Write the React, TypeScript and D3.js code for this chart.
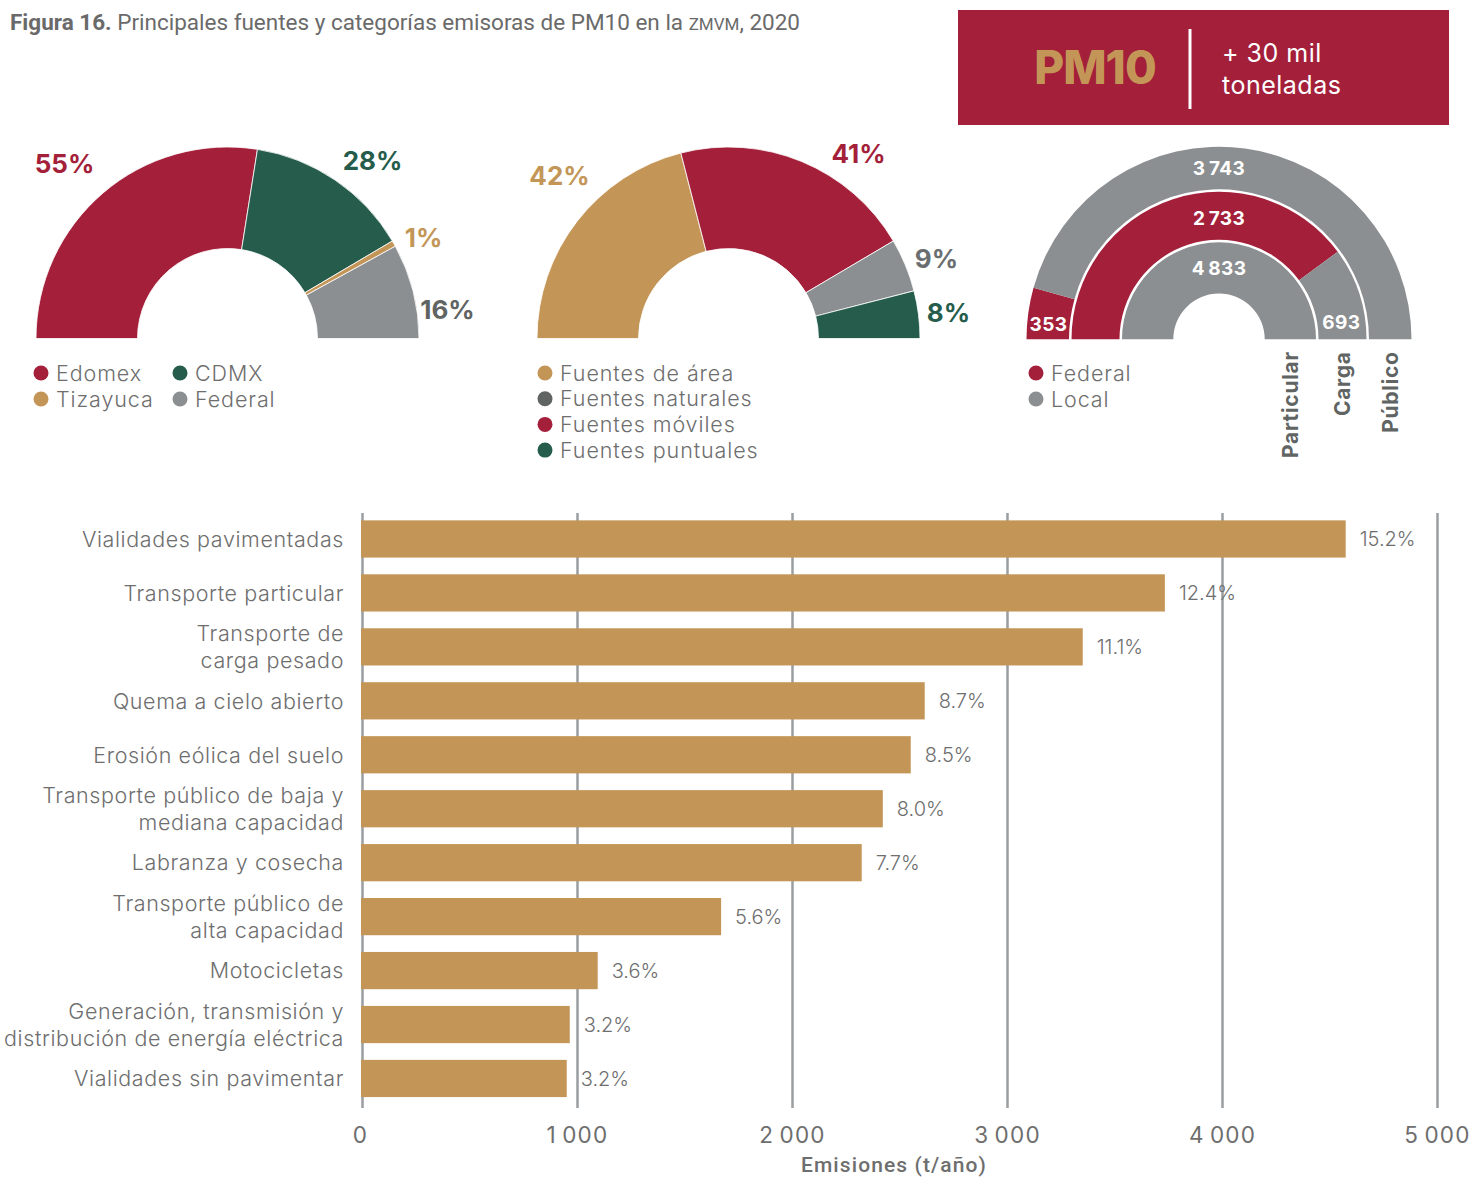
import React from 'react';
import * as d3 from 'd3';

// ---------- DATA ----------
const regionNames = ['Edomex', 'CDMX', 'Tizayuca', 'Federal'];
const regionShares = [55, 28, 1, 16];

const sourceNames = ['Fuentes de área', 'Fuentes móviles', 'Fuentes naturales', 'Fuentes puntuales'];
const sourceShares = [42, 41, 9, 8];
const sourceLegendOrder = ['Fuentes de área', 'Fuentes naturales', 'Fuentes móviles', 'Fuentes puntuales'];

const transportModes = ['Particular', 'Carga', 'Público'];
const jurisdictions = ['Federal', 'Local'];
const transportFederal = [0, 2733, 353];
const transportLocal = [4833, 693, 3743];

const categories = [
  'Vialidades pavimentadas',
  'Transporte particular',
  'Transporte de\ncarga pesado',
  'Quema a cielo abierto',
  'Erosión eólica del suelo',
  'Transporte público de baja y\nmediana capacidad',
  'Labranza y cosecha',
  'Transporte público de\nalta capacidad',
  'Motocicletas',
  'Generación, transmisión y\ndistribución de energía eléctrica',
  'Vialidades sin pavimentar',
];
const emissions = [4573, 3732, 3350, 2615, 2550, 2420, 2322, 1668, 1094, 964, 950];
const shareLabels = ['15.2%', '12.4%', '11.1%', '8.7%', '8.5%', '8.0%', '7.7%', '5.6%', '3.6%', '3.2%', '3.2%'];
const xTicks = [0, 1000, 2000, 3000, 4000, 5000];

// ---------- STYLE ----------
const CRIMSON = '#A31F3A';
const GREEN = '#265C4B';
const GOLD = '#C39657';
const GRAY = '#8C8F91';
const DARKGRAY = '#606463';
const TEXT = '#6E6E6E';
const GEO = "Inter, 'Open Sans', sans-serif";
const COND = "Roboto, 'Noto Sans', sans-serif";

const regionColors: Record<string, string> = { Edomex: CRIMSON, CDMX: GREEN, Tizayuca: GOLD, Federal: GRAY };
const regionLabelColors: Record<string, string> = { Edomex: CRIMSON, CDMX: GREEN, Tizayuca: GOLD, Federal: DARKGRAY };
const sourceColors: Record<string, string> = {
  'Fuentes de área': GOLD, 'Fuentes móviles': CRIMSON, 'Fuentes naturales': GRAY, 'Fuentes puntuales': GREEN,
};
const sourceLegendColors: Record<string, string> = {
  'Fuentes de área': GOLD, 'Fuentes móviles': CRIMSON, 'Fuentes naturales': DARKGRAY, 'Fuentes puntuales': GREEN,
};
const sourceLabelColors: Record<string, string> = {
  'Fuentes de área': GOLD, 'Fuentes móviles': CRIMSON, 'Fuentes naturales': '#6B6E70', 'Fuentes puntuales': GREEN,
};
const jurisdictionColors: Record<string, string> = { Federal: CRIMSON, Local: GRAY };

// label offsets (layout) relative to donut centre
const regionLabelOffsets = [[-163, -175], [145, -178], [196, -101], [220, -29]];
const sourceLabelOffsets = [[-169, -163], [130, -185], [208, -80], [220, -26]];

const locale = d3.formatLocale({ decimal: '.', thousands: '\u2009', grouping: [3], currency: ['', ''] });
const fmt = locale.format(',');

function Legend({ items, colors, x, y, dy, cols = 1, colW = 0 }: any) {
  return (
    <g>
      {items.map((name: string, i: number) => {
        const c = i % cols;
        const r = Math.floor(i / cols);
        const cx = x + c * colW;
        const cy = y + r * dy;
        return (
          <g key={name}>
            <circle cx={cx} cy={cy} r={7.5} fill={colors[name]} />
            <text x={cx + 15} y={cy} dy="0.36em" fontFamily={GEO} fontWeight={300} fontSize={21.5} fill={TEXT} letterSpacing={0.9}>
              {name}
            </text>
          </g>
        );
      })}
    </g>
  );
}

function HalfDonut({ cx, cy, names, values, colors, labelColors, offsets }: any) {
  const pie = d3.pie<number>().sort(null).startAngle(-Math.PI / 2).endAngle(Math.PI / 2);
  const arc = d3.arc<d3.PieArcDatum<number>>().innerRadius(90).outerRadius(191.5);
  const arcs = pie(values);
  return (
    <g transform={`translate(${cx},${cy})`}>
      {arcs.map((a, i) => (
        <path key={names[i]} d={arc(a) || ''} fill={colors[names[i]]} stroke="#fff" strokeWidth={0.8} />
      ))}
      {arcs.map((a, i) => (
        <text key={'l' + i} x={offsets[i][0]} y={offsets[i][1]} textAnchor="middle" dy="0.36em"
          fontFamily={GEO} fontWeight={700} fontSize={26} fill={labelColors[names[i]]}>
          {values[i]}%
        </text>
      ))}
    </g>
  );
}

function RingChart({ cx, cy }: any) {
  const rings = [
    { inner: 45.7, outer: 97 },
    { inner: 99.5, outer: 147.5 },
    { inner: 150, outer: 192.5 },
  ];
  const pie = d3.pie<number>().sort(null).startAngle(-Math.PI / 2).endAngle(Math.PI / 2);
  // label angles (layout): [federal label angle, local label angle] in radians
  const labelAngles = [
    [null, 0],
    [0, 1.43],
    [-1.48, 0],
  ];
  return (
    <g transform={`translate(${cx},${cy})`}>
      {transportModes.map((mode, m) => {
        const vals = [transportFederal[m], transportLocal[m]];
        const arcs = pie(vals);
        const arc = d3.arc<d3.PieArcDatum<number>>().innerRadius(rings[m].inner).outerRadius(rings[m].outer);
        const midR = (rings[m].inner + rings[m].outer) / 2;
        return (
          <g key={mode}>
            {arcs.map((a, j) => (a.value > 0 ? (
              <path key={j} d={arc(a) || ''} fill={jurisdictionColors[jurisdictions[j]]} />
            ) : null))}
            {arcs.map((a, j) => {
              const ang = labelAngles[m][j];
              if (a.value <= 0 || ang === null) return null;
              return (
                <text key={'t' + j} x={midR * Math.sin(ang)} y={-midR * Math.cos(ang) + (j === 0 && m === 1 ? 2 : 0)} textAnchor="middle" dy="0.36em"
                  fontFamily={GEO} fontWeight={700} fontSize={19} fill="#fff" letterSpacing={0.4}>
                  {fmt(a.value)}
                </text>
              );
            })}
          </g>
        );
      })}
      {transportModes.map((mode, m) => {
        const midR = (rings[m].inner + rings[m].outer) / 2;
        return (
          <text key={'v' + mode} transform={`translate(${midR},${12}) rotate(-90)`} textAnchor="end" dy="0.36em"
            fontFamily={GEO} fontWeight={700} fontSize={21} fill={DARKGRAY} letterSpacing={0.7}>
            {mode}
          </text>
        );
      })}
    </g>
  );
}

function BarChart() {
  const x = d3.scaleLinear().domain([0, 5000]).range([362.5, 1437.5]);
  const y = d3.scaleBand().domain(categories).range([512, 512 + 53.95 * 11]).paddingInner(0.31).paddingOuter(0.155);
  const gridTop = 513;
  const gridBottom = 1108;
  return (
    <g>
      {xTicks.map((t) => (
        <g key={t}>
          <line x1={x(t)} x2={x(t)} y1={gridTop} y2={gridBottom} stroke="#9A9EA1" strokeWidth={2.5} />
          <text x={x(t) - (t === 0 ? 2 : 0)} y={1135} dy="0.36em" textAnchor="middle" fontFamily={GEO} fontWeight={400}
            fontSize={22.5} fill={TEXT} letterSpacing={1.2}>
            {fmt(t)}
          </text>
        </g>
      ))}
      {categories.map((c, i) => (
        <g key={c}>
          <rect x={x(0) - 1.5} y={y(c)} width={x(emissions[i]) - x(0) + 1.5} height={y.bandwidth()} fill={GOLD} />
          <text x={x(emissions[i]) + 14} y={(y(c) || 0) + y.bandwidth() / 2} dy="0.36em" fontFamily={GEO} fontWeight={300}
            fontSize={20} fill={TEXT}>
            {shareLabels[i]}
          </text>
        </g>
      ))}
      {categories.map((c) => {
        const lines = c.split('\n');
        const cy = (y(c) || 0) + y.bandwidth() / 2;
        const lh = 27;
        return (
          <text key={'c' + c} textAnchor="end" fontFamily={GEO} fontWeight={300} fontSize={21.5} fill={TEXT} letterSpacing={0.6}>
            {lines.map((l, k) => (
              <tspan key={k} x={344} y={cy + (k - (lines.length - 1) / 2) * lh} dy="0.36em">{l}</tspan>
            ))}
          </text>
        );
      })}
      <text x={894} y={1164} dy="0.36em" textAnchor="middle" fontFamily={COND} fontWeight={500} fontSize={21} fill={TEXT} letterSpacing={1.1}>
        Emisiones (t/año)
      </text>
    </g>
  );
}

export default function App() {
  return (
    <svg width={1484} height={1177} style={{ position: 'absolute', left: 0, top: 0, background: '#fff' }}>
      <rect width={1484} height={1177} fill="#fff" />
      <text x={10} y={30} fontFamily={COND} fontSize={22.5} fill="#6A6A6A">
        <tspan fontWeight={700}>Figura 16.</tspan>
        <tspan fontWeight={400}> Principales fuentes y categorías emisoras de PM10 en la </tspan>
        <tspan fontWeight={400} fontSize={17}>ZMVM</tspan>
        <tspan fontWeight={400}>, 2020</tspan>
      </text>

      <rect x={958} y={10} width={491} height={115} fill={CRIMSON} />
      <text x={1095} y={84} textAnchor="middle" fontFamily={GEO} fontWeight={800} fontSize={46} fill={GOLD} letterSpacing={-1}>PM10</text>
      <line x1={1190} x2={1190} y1={29} y2={109} stroke="#fff" strokeWidth={3} />
      <text x={1222} y={62} fontFamily={GEO} fontWeight={400} fontSize={25} fill="#fff" letterSpacing={0.5}>+ 30 mil</text>
      <text x={1222} y={94} fontFamily={GEO} fontWeight={400} fontSize={25} fill="#fff" letterSpacing={0.5}>toneladas</text>

      <HalfDonut cx={227.5} cy={338.5} names={regionNames} values={regionShares} colors={regionColors}
        labelColors={regionLabelColors} offsets={regionLabelOffsets} />
      <Legend items={regionNames} colors={regionColors} x={41} y={373} dy={26} cols={2} colW={139} />

      <HalfDonut cx={728.5} cy={338.5} names={sourceNames} values={sourceShares} colors={sourceColors}
        labelColors={sourceLabelColors} offsets={sourceLabelOffsets} />
      <Legend items={sourceLegendOrder} colors={sourceLegendColors} x={545} y={373} dy={25.7} />

      <RingChart cx={1219} cy={339.3} />
      <Legend items={jurisdictions} colors={jurisdictionColors} x={1036} y={373} dy={26} />

      <BarChart />
    </svg>
  );
}
